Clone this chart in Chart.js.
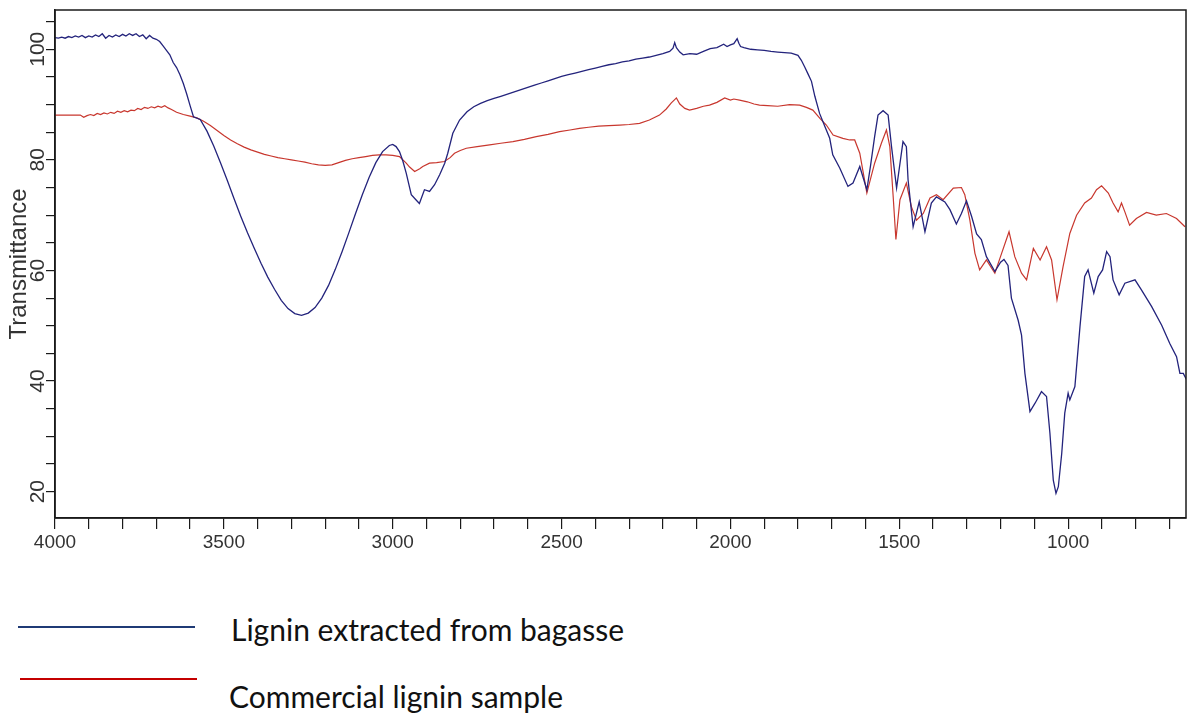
<!DOCTYPE html>
<html lang="en">
<head>
    <meta charset="UTF-8">
    <title>FTIR spectra of lignin</title>
    <script src="https://cdn.jsdelivr.net/npm/chart.js"></script>
    <style>
        body {
            margin: 0;
            background: #fff;
            width: 1187px;
            height: 715px;
            position: relative;
            overflow: hidden;
        }
        .chart-box {
            position: absolute;
            left: 0;
            top: 0;
            width: 1187px;
            height: 565px;
        }
        .key-line {
            position: absolute;
            height: 2px;
        }
        .key-text {
            position: absolute;
            font-family: 'Lato', 'Open Sans', sans-serif;
            font-size: 30px;
            color: #111;
            white-space: nowrap;
            line-height: 1;
        }
    </style>
</head>
<body>
    <div class="chart-box">
        <canvas id="ftir"></canvas>
    </div>

    <!-- legend under the plot -->
    <div class="key-line" style="left:18px; top:626px; width:177px; background:#1f3a75;"></div>
    <div class="key-text" style="left:231px; top:614px;">Lignin extracted from bagasse</div>
    <div class="key-line" style="left:20px; top:678px; width:177px; height:1.5px; background:#c40000;"></div>
    <div class="key-text" style="left:229px; top:681px;">Commercial lignin sample</div>

    <script>
        // wavenumber (cm-1) and transmittance (%) for each sample
        const bagasseWn = [
            4000, 3990, 3980, 3970, 3960, 3950, 3940, 3930, 3920, 3910,
            3900, 3890, 3880, 3870, 3860, 3850, 3840, 3830, 3820, 3810,
            3800, 3790, 3780, 3770, 3760, 3750, 3740, 3730, 3720, 3710,
            3700, 3690, 3680, 3670, 3660, 3650, 3640, 3630, 3620, 3610,
            3600, 3590, 3570, 3550, 3530, 3510, 3490, 3470, 3450, 3430,
            3410, 3390, 3370, 3350, 3330, 3310, 3290, 3270, 3250, 3230,
            3210, 3190, 3170, 3150, 3130, 3110, 3090, 3070, 3050, 3030,
            3010, 3000, 2990, 2980, 2970, 2960, 2945, 2930, 2921, 2906,
            2891, 2876, 2861, 2846, 2837, 2822, 2802, 2780, 2760, 2740,
            2720, 2700, 2680, 2660, 2640, 2620, 2600, 2580, 2560, 2540,
            2520, 2500, 2480, 2460, 2440, 2420, 2400, 2380, 2360, 2340,
            2320, 2300, 2280, 2260, 2240, 2220, 2200, 2180, 2170, 2165,
            2160, 2150, 2140, 2120, 2100, 2080, 2060, 2040, 2020, 2010,
            2000, 1990, 1980, 1975, 1970, 1960, 1940, 1920, 1900, 1880,
            1860, 1840, 1820, 1800, 1790, 1780, 1770, 1760, 1750, 1736,
            1720, 1706, 1697, 1676, 1652, 1637, 1617, 1596, 1585, 1573,
            1563, 1548, 1533, 1523, 1508, 1489, 1479, 1474, 1459, 1441,
            1424, 1405, 1390, 1365, 1350, 1331, 1316, 1301, 1286, 1271,
            1257, 1242, 1217, 1200, 1190, 1178, 1168, 1148, 1138, 1128,
            1113, 1098, 1079, 1064, 1054, 1044, 1036, 1029, 1019, 1010,
            1000, 995, 980, 965, 951, 941, 924, 911, 898, 886,
            876, 867, 849, 832, 802, 783, 753, 723, 699, 679,
            669, 659, 649
        ];
        const bagasseT = [
            102.1, 102.0, 102.2, 102.0, 102.3, 102.1, 102.4, 102.2, 102.5, 102.1,
            102.4, 102.2, 102.6, 102.3, 102.8, 102.0, 102.5, 102.2, 102.6, 102.3,
            102.7, 102.4, 102.8, 102.5, 102.8, 102.3, 102.6, 101.9, 102.5, 102.0,
            101.8, 101.4, 100.6, 99.8, 99.0, 97.6, 96.7, 95.4, 93.8, 91.9,
            89.8, 87.8, 87.3, 85.2, 82.5, 79.5, 76.3, 73.0, 69.8, 66.8,
            64.0, 61.3, 58.8, 56.6, 54.6, 53.1, 52.2, 51.9, 52.3, 53.3,
            55.0, 57.3, 60.2, 63.4, 66.8, 70.3, 73.7, 76.8, 79.5, 81.5,
            82.6, 82.8, 82.4, 81.5, 79.8, 77.6, 73.7, 72.7, 72.1, 74.6,
            74.3, 75.5, 77.3, 79.4, 81.2, 84.8, 87.2, 88.7, 89.6, 90.2,
            90.7, 91.1, 91.5, 91.9, 92.3, 92.7, 93.1, 93.5, 93.9, 94.3,
            94.7, 95.1, 95.4, 95.7, 96.0, 96.3, 96.6, 96.9, 97.2, 97.4,
            97.7, 97.9, 98.2, 98.4, 98.6, 98.9, 99.2, 99.6, 100.2, 101.2,
            100.3, 99.5, 99.0, 99.2, 99.1, 99.6, 100.1, 100.3, 100.9, 100.5,
            100.8, 101.0, 101.9, 101.1, 100.5, 100.3, 100.0, 99.9, 99.8, 99.6,
            99.5, 99.4, 99.3, 98.9, 98.0, 96.8, 95.5, 94.2, 91.5, 88.4,
            86.0, 83.9, 80.9, 78.5, 75.2, 75.8, 78.8, 74.6, 79.0, 84.2,
            88.1, 88.9, 88.1, 82.4, 74.9, 83.3, 82.4, 76.4, 67.9, 72.4,
            67.0, 72.2, 73.3, 72.4, 71.0, 68.4, 70.3, 72.6, 69.8, 66.6,
            65.6, 62.5, 59.8, 61.5, 62.0, 60.9, 55.0, 51.0, 48.3, 41.4,
            34.5, 36.0, 38.1, 37.2, 30.6, 22.1, 19.7, 20.9, 26.9, 34.2,
            37.8, 36.6, 39.0, 49.8, 58.9, 60.1, 55.9, 58.9, 60.1, 63.4,
            62.5, 58.3, 55.6, 57.7, 58.3, 56.5, 53.5, 50.1, 46.8, 44.4,
            41.4, 41.4, 40.2
        ];

        const commercialWn = [
            4000, 3980, 3960, 3940, 3925, 3915, 3905, 3895, 3885, 3875,
            3865, 3855, 3845, 3835, 3825, 3815, 3805, 3795, 3785, 3775,
            3765, 3755, 3745, 3735, 3725, 3715, 3705, 3695, 3685, 3675,
            3665, 3655, 3640, 3620, 3600, 3580, 3560, 3540, 3520, 3500,
            3480, 3460, 3440, 3420, 3400, 3380, 3360, 3340, 3320, 3300,
            3280, 3260, 3240, 3220, 3200, 3180, 3160, 3140, 3120, 3100,
            3080, 3060, 3040, 3020, 3000, 2980, 2960, 2950, 2935, 2920,
            2911, 2891, 2870, 2847, 2830, 2817, 2800, 2782, 2750, 2713,
            2680, 2644, 2610, 2575, 2540, 2506, 2475, 2447, 2420, 2390,
            2360, 2328, 2300, 2269, 2240, 2210, 2190, 2175, 2165, 2160,
            2150, 2135, 2121, 2100, 2080, 2062, 2040, 2017, 2000, 1990,
            1973, 1950, 1930, 1914, 1890, 1860, 1825, 1795, 1775, 1756,
            1735, 1716, 1696, 1667, 1647, 1632, 1617, 1596, 1573, 1553,
            1538, 1528, 1518, 1510, 1498, 1479, 1464, 1449, 1429, 1409,
            1390, 1370, 1340, 1316, 1306, 1291, 1276, 1262, 1242, 1217,
            1197, 1175, 1158, 1138, 1123, 1103, 1083, 1064, 1049, 1033,
            1015, 995, 975, 951, 931, 916, 901, 881, 867, 852,
            842, 832, 818, 798, 768, 739, 709, 679, 654
        ];
        const commercialT = [
            88.1, 88.1, 88.1, 88.1, 88.1, 87.7, 88.0, 88.2, 88.0, 88.4,
            88.2, 88.5, 88.3, 88.6, 88.4, 88.8, 88.6, 88.9, 88.7, 89.0,
            88.9, 89.3, 89.1, 89.5, 89.3, 89.6, 89.4, 89.7, 89.5, 89.8,
            89.4, 89.1, 88.6, 88.2, 87.9, 87.6, 87.0, 86.2, 85.3, 84.4,
            83.6, 82.9, 82.3, 81.8, 81.4, 81.0, 80.7, 80.4, 80.2, 80.0,
            79.8, 79.6, 79.3, 79.1, 79.0, 79.1, 79.5, 79.9, 80.2, 80.4,
            80.6, 80.8, 80.9, 80.9, 80.8, 80.6, 79.4, 78.7, 77.9, 78.4,
            78.8, 79.4, 79.5, 79.7, 80.4, 81.2, 81.7, 82.1, 82.4, 82.7,
            83.0, 83.3, 83.7, 84.2, 84.6, 85.1, 85.4, 85.7, 85.9, 86.1,
            86.2, 86.3, 86.4, 86.6, 87.2, 88.1, 89.2, 90.3, 90.9, 91.2,
            90.1, 89.3, 89.0, 89.3, 89.7, 89.9, 90.4, 91.2, 90.8, 91.0,
            90.8, 90.5, 90.1, 89.9, 89.8, 89.7, 90.0, 89.9, 89.5, 89.0,
            87.5, 86.3, 84.5, 83.9, 83.6, 83.6, 81.2, 74.0, 79.4, 83.0,
            85.4, 82.4, 73.3, 65.6, 72.8, 75.8, 71.5, 69.1, 70.3, 73.1,
            73.7, 72.8, 74.9, 75.0, 73.7, 69.1, 63.1, 60.1, 61.9, 59.5,
            63.1, 67.0, 62.5, 59.5, 58.3, 64.0, 61.9, 64.3, 61.9, 54.7,
            60.7, 66.7, 70.0, 72.2, 73.1, 74.6, 75.3, 74.0, 72.2, 70.6,
            72.2, 70.6, 68.2, 69.4, 70.5, 70.0, 70.3, 69.4, 67.9
        ];

        // labelled ticks on the transmittance axis
        const yLabels = [20, 40, 60, 80, 100];
        // labelled ticks on the wavenumber axis
        const xLabels = [4000, 3500, 3000, 2500, 2000, 1500, 1000];

        const toPoints = (xs, ys) => xs.map((x, i) => ({ x: x, y: ys[i] }));

        // box around the plot and the rotated y tick labels
        const frameAndLabels = {
            id: 'frameAndLabels',
            afterDraw(chart) {
                const { ctx, chartArea: a } = chart;
                const y = chart.scales.y;
                ctx.save();
                ctx.strokeStyle = '#1a1a1a';
                ctx.lineWidth = 1.5;
                ctx.strokeRect(a.left, a.top, a.right - a.left, a.bottom - a.top);

                ctx.fillStyle = '#333';
                ctx.font = '21px "Liberation Sans", Arial, sans-serif';
                ctx.textAlign = 'center';
                ctx.textBaseline = 'middle';
                yLabels.forEach(v => {
                    ctx.save();
                    ctx.translate(38, y.getPixelForValue(v));
                    ctx.rotate(-Math.PI / 2);
                    ctx.fillText(String(v), 0, 0);
                    ctx.restore();
                });
                ctx.restore();
            }
        };

        const ctx = document.getElementById('ftir').getContext('2d');
        new Chart(ctx, {
            type: 'line',
            data: {
                datasets: [{
                    label: 'Lignin extracted from bagasse',
                    data: toPoints(bagasseWn, bagasseT),
                    borderColor: '#23237c',
                    borderWidth: 1.3,
                    pointRadius: 0,
                    fill: false,
                    tension: 0
                }, {
                    label: 'Commercial lignin sample',
                    data: toPoints(commercialWn, commercialT),
                    borderColor: '#c8372e',
                    borderWidth: 1.2,
                    pointRadius: 0,
                    fill: false,
                    tension: 0
                }]
            },
            options: {
                responsive: true,
                maintainAspectRatio: false,
                animation: false,
                layout: { padding: { top: 10, right: 1, left: 0, bottom: 0 } },
                plugins: {
                    legend: { display: false },
                    tooltip: { enabled: false }
                },
                scales: {
                    x: {
                        type: 'linear',
                        reverse: true,
                        min: 651,
                        max: 4000,
                        afterFit: (scale) => { scale.height = 47; },
                        border: { display: true, color: '#1a1a1a', width: 1.5 },
                        grid: {
                            drawOnChartArea: false,
                            drawTicks: true,
                            tickLength: 11,
                            color: '#1a1a1a',
                            lineWidth: 1.2
                        },
                        ticks: {
                            stepSize: 100,
                            includeBounds: false,
                            autoSkip: false,
                            maxRotation: 0,
                            padding: 2,
                            color: '#333',
                            font: { family: '"Liberation Sans", Arial, sans-serif', size: 19 },
                            callback: (v) => xLabels.includes(v) ? String(v) : ''
                        }
                    },
                    y: {
                        min: 15.24,
                        max: 107.1,
                        afterFit: (scale) => { scale.width = 55; },
                        border: { display: true, color: '#1a1a1a', width: 1.5 },
                        grid: {
                            drawOnChartArea: false,
                            drawTicks: true,
                            tickLength: 9,
                            color: '#1a1a1a',
                            lineWidth: 1.2
                        },
                        ticks: {
                            stepSize: 5,
                            includeBounds: false,
                            display: false
                        },
                        title: {
                            display: true,
                            text: 'Transmittance',
                            color: '#333',
                            padding: { top: 5, bottom: 0 },
                            font: { family: '"Liberation Sans", Arial, sans-serif', size: 24 }
                        }
                    }
                }
            },
            plugins: [frameAndLabels]
        });
    </script>
</body>
</html>
